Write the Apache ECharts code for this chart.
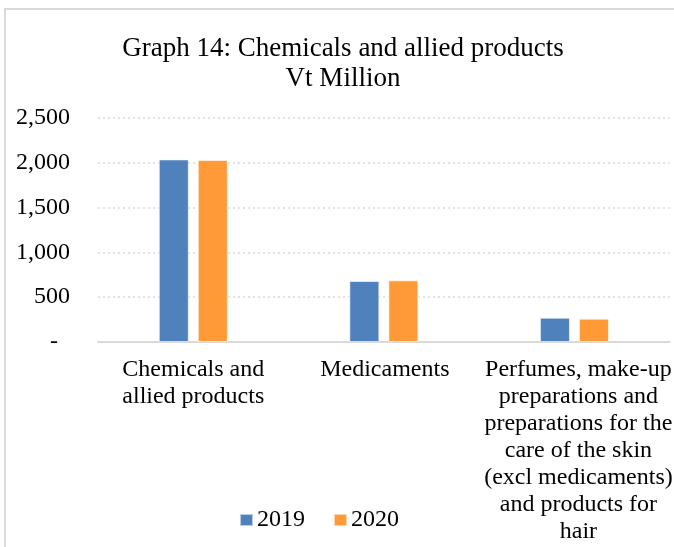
<!DOCTYPE html>
<html><head><meta charset="utf-8">
<script src="https://cdn.jsdelivr.net/npm/echarts@6/dist/echarts.min.js"></script>
<style>html,body{margin:0;padding:0;background:#fff}#c{width:674px;height:547px}</style>
</head><body><div id="c"></div>
<script>
const categories = [
  "Chemicals and\nallied products",
  "Medicaments",
  "Perfumes, make-up\npreparations and\npreparations for the\ncare of the skin\n(excl medicaments)\nand products for\nhair"
];
const values2019 = [2038, 681, 271];
const values2020 = [2031, 688, 260];
const yTicks = [0, 500, 1000, 1500, 2000, 2500];
const seriesNames = ["2019", "2020"];

const font = "'Liberation Serif', 'Times New Roman', serif";
const labelShift = [0, 2, 8];
const chart = echarts.init(document.getElementById('c'), null, {renderer: 'canvas'});
chart.setOption({
  animation: false,
  backgroundColor: '#fff',
  graphic: [
    {type: 'line', shape: {x1: 5, y1: 9, x2: 5, y2: 560}, style: {stroke: '#d9d9d9', lineWidth: 2}, z: -1},
    {type: 'line', shape: {x1: 4, y1: 9, x2: 700, y2: 9}, style: {stroke: '#d9d9d9', lineWidth: 2}, z: -1}
  ],
  title: {
    text: "Graph 14: Chemicals and allied products\nVt Million",
    left: 338, top: 29, textAlign: 'center',
    textStyle: {fontFamily: font, fontWeight: 'normal', fontSize: 27, lineHeight: 30, color: '#000'}
  },
  legend: {
    data: seriesNames, left: 234, top: 503, itemWidth: 13, itemHeight: 12, itemGap: 28,
    icon: 'rect',
    textStyle: {fontFamily: font, fontSize: 24, color: '#000', padding: [0, 0, 0, -1]}
  },
  grid: {left: 98, right: -6, top: 118, bottom: 205, containLabel: false},
  xAxis: {
    type: 'category',
    data: categories.map((c, i) => ({value: c, textStyle: {padding: [0, 0, 0, labelShift[i]]}})),
    axisLine: {lineStyle: {color: '#d9d9d9', width: 2}},
    axisTick: {show: false},
    axisLabel: {interval: 0, margin: 14, fontFamily: font, fontSize: 24, lineHeight: 27, color: '#000', align: 'center'}
  },
  yAxis: {
    type: 'value', min: yTicks[0], max: yTicks[yTicks.length - 1], interval: 500,
    axisLine: {show: false}, axisTick: {show: false},
    splitLine: {lineStyle: {color: '#d9d9d9', type: [2, 3], width: 1.5}},
    axisLabel: {
      margin: 28, fontFamily: font, fontSize: 24, color: '#000',
      formatter: v => v === 0 ? '-  ' : v.toLocaleString('en-US')
    }
  },
  series: [
    {name: seriesNames[0], type: 'bar', data: values2019, barWidth: 30, barGap: '30%',
     itemStyle: {color: '#4F81BD', borderColor: 'rgba(255,255,255,0.6)', borderWidth: 1}},
    {name: seriesNames[1], type: 'bar', data: values2020, barWidth: 30,
     itemStyle: {color: '#FF9A36', borderColor: 'rgba(255,255,255,0.6)', borderWidth: 1}}
  ]
});
</script></body></html>
